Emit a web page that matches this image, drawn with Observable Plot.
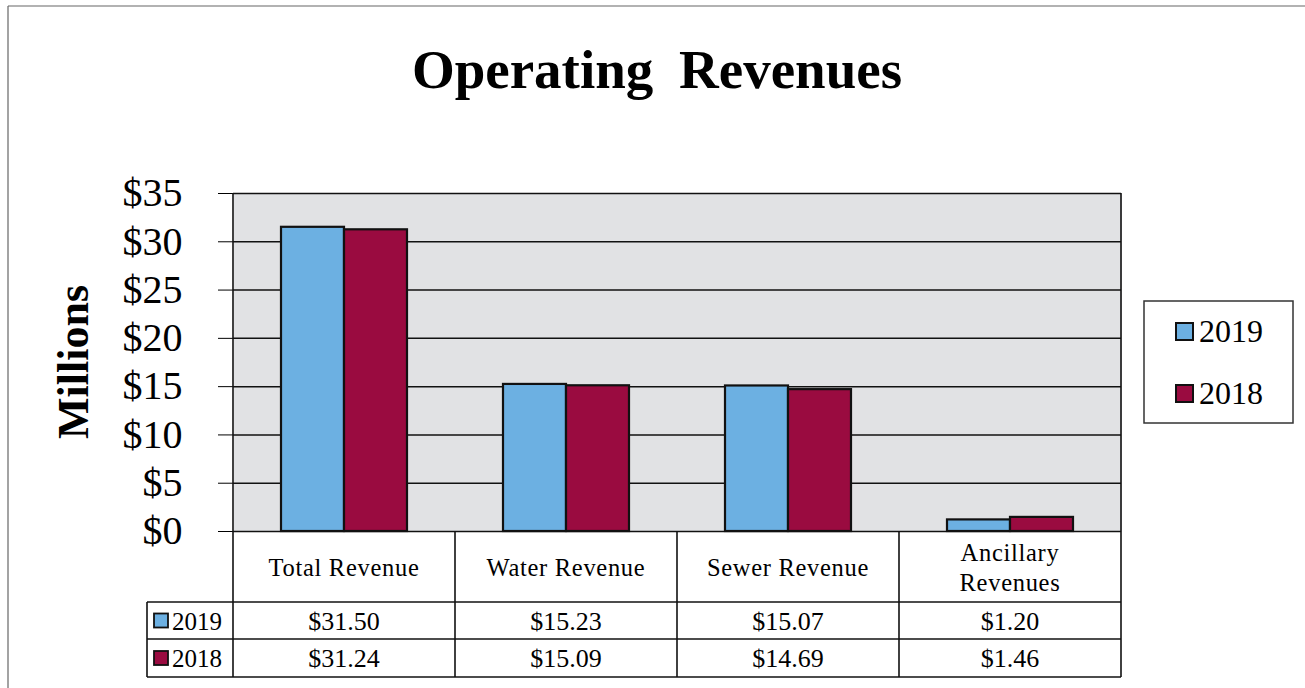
<!DOCTYPE html>
<html>
<head>
<meta charset="utf-8">
<script src="https://cdn.jsdelivr.net/npm/d3@7"></script>
<script src="https://cdn.jsdelivr.net/npm/@observablehq/plot@0.6"></script>
<style>
  body { margin: 0; background: #ffffff; }
  #wrap { position: relative; width: 1305px; height: 688px; overflow: hidden; background: #ffffff;
          font-family: "Liberation Serif", "Times New Roman", serif; }
  #chart { position: absolute; left: 0; top: 0; }
  #overlay { position: absolute; left: 0; top: 0; pointer-events: none; }
  #chart svg g[aria-label^="y-axis"] line { stroke-width: 1.5px; }
</style>
</head>
<body>
<div id="wrap">
  <div id="chart"></div>
</div>
<script>
// ---------------- data ----------------
const title = "Operating Revenues";
const yLabel = "Millions";
const categories = ["Total Revenue", "Water Revenue", "Sewer Revenue", "Ancillary Revenues"];
const categoryLines = [["Total Revenue"], ["Water Revenue"], ["Sewer Revenue"], ["Ancillary", "Revenues"]];
const years = ["2019", "2018"];
const values2019 = [31.50, 15.23, 15.07, 1.20];
const values2018 = [31.24, 15.09, 14.69, 1.46];
const yTicks = [0, 5, 10, 15, 20, 25, 30, 35];
const colors = ["#6cb0e2", "#9a0b40"];

const seriesValues = [values2019, values2018];
const rows = [];
categories.forEach((c, i) => {
  years.forEach((y, j) => rows.push({ category: c, year: y, value: seriesValues[j][i] }));
});

// ---------------- layout ----------------
const W = 1305, H = 688;
const mL = 233, mR = 184, mT = 193, mB = 157;
const font = "'Liberation Serif', 'Times New Roman', serif";

const chart = Plot.plot({
  width: W,
  height: H,
  marginLeft: mL,
  marginRight: mR,
  marginTop: mT,
  marginBottom: mB,
  facet: { data: rows, x: "category" },
  fx: { domain: categories, padding: 0, axis: null, label: null },
  x: { type: "band", domain: years, paddingInner: 0, paddingOuter: 0.748, axis: null, label: null },
  y: { domain: [0, 35], ticks: yTicks, tickFormat: d => "$" + d, tickSize: 15, tickPadding: 36, label: null },
  color: { type: "ordinal", domain: years, range: colors },
  style: { fontFamily: font, fontSize: "40px", background: "transparent", color: "#000" },
  marks: [
    Plot.frame({ fill: "#e1e2e4", stroke: "none", shapeRendering: "crispEdges" }),
    Plot.ruleY(yTicks, { stroke: "#111", strokeWidth: 1.5 }),
    Plot.barY(rows, { x: "year", y: "value", fill: "year", stroke: "#111", strokeWidth: 2.2 })
  ]
});
// drop Plot's console-warning badge (not part of the chart)
chart.querySelectorAll("text").forEach(t => { if (t.textContent.includes("\u26A0")) t.remove(); });
document.getElementById("chart").appendChild(chart);

// geometry from the plot's y scale
const ys = chart.scale("y");
const yBottom = Math.max(...ys.range), yTop = Math.min(...ys.range);
const plotW = W - mL - mR;
const colW = plotW / categories.length;
const colX = i => mL + i * colW;

// ---------------- overlay (title, label, legend, data table) ----------------
const svg = d3.select("#wrap").append("svg")
  .attr("id", "overlay").attr("width", W).attr("height", H)
  .style("font-family", font);

// outer border (top + left)
svg.append("line").attr("x1", 8).attr("x2", W).attr("y1", 6).attr("y2", 6).attr("stroke", "#666").attr("stroke-width", 1.2);
svg.append("line").attr("x1", 8).attr("x2", 8).attr("y1", 6).attr("y2", H).attr("stroke", "#666").attr("stroke-width", 1.2);

// title
svg.append("text").attr("x", 657).attr("y", 88).attr("text-anchor", "middle")
  .attr("font-size", 55).attr("font-weight", "bold").attr("word-spacing", "12px").attr("fill", "#000").text(title);

// y label
svg.append("text").attr("transform", "translate(88," + ((yTop + yBottom) / 2) + ") rotate(-90)")
  .attr("text-anchor", "middle").attr("font-size", 44).attr("font-weight", "bold").attr("fill", "#000").text(yLabel);

// table geometry
const tblLeft = 147;
const r1 = yBottom + 71, r2 = yBottom + 108, r3 = yBottom + 146;
const lineStyle = sel => sel.attr("stroke", "#111").attr("stroke-width", 1.6);

// plot & table vertical lines
lineStyle(svg.append("line").attr("x1", mL).attr("x2", mL).attr("y1", yTop).attr("y2", r3));
lineStyle(svg.append("line").attr("x1", W - mR).attr("x2", W - mR).attr("y1", yTop).attr("y2", r3));
for (let i = 1; i < categories.length; i++) {
  lineStyle(svg.append("line").attr("x1", colX(i)).attr("x2", colX(i)).attr("y1", yBottom).attr("y2", r3));
}
lineStyle(svg.append("line").attr("x1", tblLeft).attr("x2", tblLeft).attr("y1", r1).attr("y2", r3));
[r1, r2, r3].forEach(y => lineStyle(svg.append("line").attr("x1", tblLeft).attr("x2", W - mR).attr("y1", y).attr("y2", y)));

// category header labels
categoryLines.forEach((lines, i) => {
  const cx = colX(i) + colW / 2;
  const lh = 30;
  const first = (yBottom + r1) / 2 + 9 - (lines.length - 1) * lh / 2;
  lines.forEach((t, k) => {
    svg.append("text").attr("x", cx).attr("y", first + k * lh).attr("text-anchor", "middle")
      .attr("font-size", 24.5).attr("letter-spacing", "0.7px").attr("fill", "#000").text(t);
  });
});

// value rows + keys
const rowMids = [(r1 + r2) / 2, (r2 + r3) / 2];
years.forEach((yr, j) => {
  const my = rowMids[j];
  svg.append("rect").attr("x", 154).attr("y", my - 7).attr("width", 14).attr("height", 14)
    .attr("fill", colors[j]).attr("stroke", "#111").attr("stroke-width", 1.8);
  svg.append("text").attr("x", 172).attr("y", my + 9).attr("font-size", 25).attr("fill", "#000").text(yr);
  seriesValues[j].forEach((v, i) => {
    svg.append("text").attr("x", colX(i) + colW / 2).attr("y", my + 9).attr("text-anchor", "middle")
      .attr("font-size", 26).attr("fill", "#000").text("$" + v.toFixed(2));
  });
});

// legend box
svg.append("rect").attr("x", 1144).attr("y", 301).attr("width", 149).attr("height", 122)
  .attr("fill", "#fff").attr("stroke", "#333").attr("stroke-width", 1.5);
years.forEach((yr, j) => {
  const ky = 323 + j * 62;
  svg.append("rect").attr("x", 1176).attr("y", ky).attr("width", 17).attr("height", 17)
    .attr("fill", colors[j]).attr("stroke", "#111").attr("stroke-width", 2);
  svg.append("text").attr("x", 1199).attr("y", ky + 19).attr("font-size", 32).attr("fill", "#000").text(yr);
});
</script>
</body>
</html>
